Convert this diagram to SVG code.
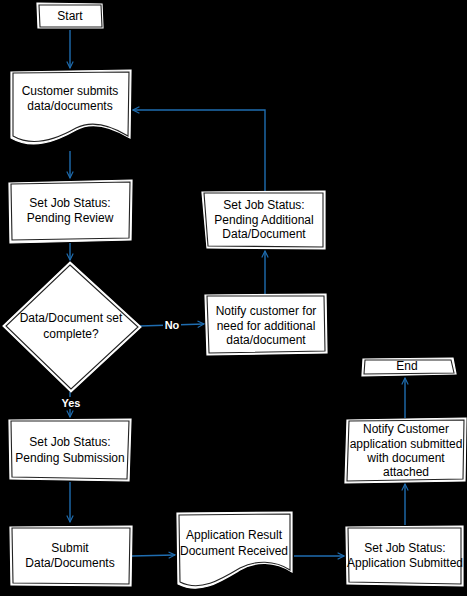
<svg xmlns="http://www.w3.org/2000/svg" width="467" height="596" viewBox="0 0 467 596">
<defs>
<style>
.bg{fill:#000}
.shape{fill:#fff;stroke:#fff;stroke-width:1.2}
.sk{fill:none;stroke:#222;stroke-width:1.1}
.t{font-family:"Liberation Sans",Arial,sans-serif;font-size:12px;fill:#000;text-anchor:middle}
.lbl{font-family:"Liberation Sans",Arial,sans-serif;font-size:11px;fill:#fff;text-anchor:middle;font-weight:bold}
.lblbg{fill:#000}
.c{fill:none;stroke:#1f6db0;stroke-width:1.4}
</style>
<marker id="ah" viewBox="0 0 10 10" refX="9" refY="5" markerWidth="8" markerHeight="8" orient="auto" markerUnits="userSpaceOnUse">
<path d="M1,1 L9,5 L1,9" fill="none" stroke="#1f6db0" stroke-width="1.4"/>
</marker>
</defs>
<rect class="bg" x="0" y="0" width="467" height="596"/>

<g id="connectors">
<path class="c" d="M70,30 L70,68" marker-end="url(#ah)"/>
<path class="c" d="M70,151 L70,178" marker-end="url(#ah)"/>
<path class="c" d="M70,243 L70,260" marker-end="url(#ah)"/>
<path class="c" d="M70,392 L70,417" marker-end="url(#ah)"/>
<path class="c" d="M70,482 L70,522" marker-end="url(#ah)"/>
<path class="c" d="M132,556 L175,555" marker-end="url(#ah)"/>
<path class="c" d="M294,556 L344,556" marker-end="url(#ah)"/>
<path class="c" d="M405,525 L405,484" marker-end="url(#ah)"/>
<path class="c" d="M405,418 L405,378" marker-end="url(#ah)"/>
<path class="c" d="M140,326 L204,324" marker-end="url(#ah)"/>
<path class="c" d="M265,294 L265,251" marker-end="url(#ah)"/>
<path class="c" d="M265,191 L265,110 L133,110" marker-end="url(#ah)"/>
<rect class="lblbg" x="163" y="319" width="18" height="12"/>
<text class="lbl" x="172" y="329">No</text>
<rect class="lblbg" x="61" y="397" width="20" height="12"/>
<text class="lbl" x="71" y="407">Yes</text>
</g>

<g id="start">
<path class="shape" d="M37,3 L102,4 L103,28 L38,28 Z"/>
<path class="sk" d="M39,5 L101,5 L102,27 L40,27 Z"/>
<text class="t" x="70" y="20">Start</text>
</g>

<g id="customer-submits">
<path class="shape" d="M11,72 L131,70 L130,138 C110,126 92,121 76,130 C55,142 32,150 11,138 Z"/>
<path class="sk" d="M13,73 L129,72 L128,136 C110,125 92,120 76,128 C55,140 32,147 13,136 Z"/>
<text class="t" x="70" y="95">Customer submits</text>
<text class="t" x="70" y="110">data/documents</text>
</g>

<g id="pending-review">
<path class="shape" d="M9,183 L132,180 L131,240 L10,243 Z"/>
<path class="sk" d="M11,184 L130,182 L129,238 L12,240 Z"/>
<text class="t" x="70" y="207">Set Job Status:</text>
<text class="t" x="70" y="222">Pending Review</text>
</g>

<g id="decision">
<path class="shape" d="M70,262 L141,327 L71,392 L3,326 Z"/>
<path class="sk" d="M70,265 L138,327 L71,389 L6,326 Z"/>
<text class="t" x="71" y="322">Data/Document set</text>
<text class="t" x="71" y="338">complete?</text>
</g>

<g id="pending-submission">
<path class="shape" d="M9,420 L131,419 L129,481 L10,479 Z"/>
<path class="sk" d="M11,421 L129,421 L127,479 L12,477 Z"/>
<text class="t" x="70" y="446">Set Job Status:</text>
<text class="t" x="70" y="462">Pending Submission</text>
</g>

<g id="submit">
<path class="shape" d="M10,527 L132,526 L131,586 L11,585 Z"/>
<path class="sk" d="M12,528 L130,528 L129,584 L13,583 Z"/>
<text class="t" x="70" y="552">Submit</text>
<text class="t" x="70" y="567">Data/Documents</text>
</g>

<g id="app-result">
<path class="shape" d="M177,513 L292,512 L292,572 C275,561 255,561 240,570 C220,582 200,595 178,584 Z"/>
<path class="sk" d="M179,515 L290,514 L290,570 C275,560 255,560 240,568 C220,580 200,592 180,582 Z"/>
<text class="t" x="234" y="539">Application Result</text>
<text class="t" x="234" y="555">Document Received</text>
</g>

<g id="app-submitted">
<path class="shape" d="M346,527 L463,526 L463,586 L347,584 Z"/>
<path class="sk" d="M348,528 L461,528 L461,584 L349,582 Z"/>
<text class="t" x="405" y="552">Set Job Status:</text>
<text class="t" x="405" y="567">Application Submitted</text>
</g>

<g id="notify-submitted">
<path class="shape" d="M347,420 L466,418 L465,481 L345,483 Z"/>
<path class="sk" d="M349,421 L464,420 L463,479 L347,481 Z"/>
<text class="t" x="406" y="433">Notify Customer</text>
<text class="t" x="406" y="448">application submitted</text>
<text class="t" x="406" y="462">with document</text>
<text class="t" x="406" y="476">attached</text>
</g>

<g id="end">
<path class="shape" d="M363,359 L453,358 L456,374 L362,376 Z"/>
<path class="sk" d="M365,360 L451,360 L454,373 L364,374 Z"/>
<text class="t" x="407" y="370">End</text>
</g>

<g id="notify-need">
<path class="shape" d="M205,295 L326,294 L327,353 L207,355 Z"/>
<path class="sk" d="M207,296 L324,296 L325,351 L209,353 Z"/>
<text class="t" x="266" y="315">Notify customer for</text>
<text class="t" x="266" y="330">need for additional</text>
<text class="t" x="266" y="344">data/document</text>
</g>

<g id="pending-additional">
<path class="shape" d="M202,192 L325,191 L325,249 L207,248 Z"/>
<path class="sk" d="M204,193 L323,193 L323,247 L208,246 Z"/>
<text class="t" x="264" y="209">Set Job Status:</text>
<text class="t" x="264" y="224">Pending Additional</text>
<text class="t" x="264" y="238">Data/Document</text>
</g>
</svg>
